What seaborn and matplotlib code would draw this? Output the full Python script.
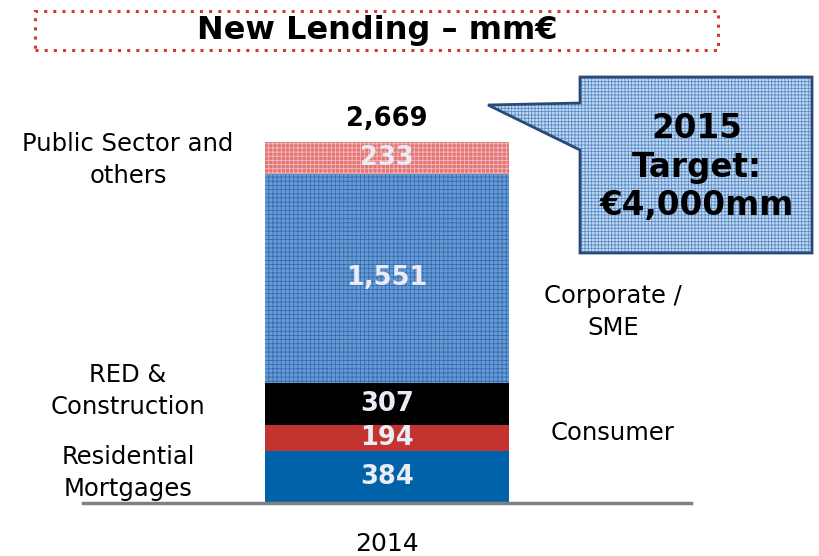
import matplotlib
matplotlib.use("Agg")
import matplotlib.pyplot as plt
import pandas as pd
import seaborn as sns
from matplotlib.patches import Polygon, Rectangle

# Data (mm€, 2014), bottom to top
segments = ['Residential Mortgages', 'Consumer', 'RED & Construction',
            'Corporate / SME', 'Public Sector and others']
values = [384, 194, 307, 1551, 233]
year = ['2014']
total = 2669

seg_colors = ['#0062a8', '#c3332f', '#000000', '#6b9ad2', '#e47476']
hatch_colors = ['#0062a8', '#c3332f', '#000000', '#2f6fb5', '#f3bcbc']
hatches = ['', '', '', '++++', '++++']

sns.set_style('white')
plt.rcParams['font.family'] = ['DejaVu Sans']
plt.rcParams['text.color'] = 'black'
plt.rcParams['xtick.color'] = 'black'
plt.rcParams['hatch.linewidth'] = 0.6

fig = plt.figure(figsize=(8.2, 5.56), dpi=100)
ax = fig.add_axes([83 / 820, 1 - 503 / 556, 608 / 820, 443 / 556])

# stacked bar: draw cumulative totals from the top down
cum = pd.Series(values).cumsum()
for i in reversed(range(len(values))):
    df = pd.DataFrame({'year': year, 'value': [cum[i]]})
    sns.barplot(data=df, x='year', y='value', ax=ax, color=seg_colors[i],
                width=0.8, saturation=1, hatch=hatches[i],
                edgecolor=hatch_colors[i], linewidth=0)

ax.set_xlim(-1.0, 1.0)
ax.set_ylim(0, 443 / (361 / total))
sns.despine(ax=ax, left=True, top=True, right=True)
ax.spines['bottom'].set_color('#808080')
ax.spines['bottom'].set_linewidth(2.5)
ax.set_yticks([])
ax.set_xlabel('')
ax.set_ylabel('')
ax.tick_params(axis='x', length=0, pad=21, labelsize=18, labelcolor='black')

# value labels
bottoms = [0] + list(cum[:-1])
for v, b in zip(values, bottoms):
    ax.text(0, b + v / 2, f'{v:,}', ha='center', va='center',
            fontsize=18.5, fontweight='bold', color='#e9ecf5')
ax.text(0, total + 75, f'{total:,}', ha='center', va='bottom',
        fontsize=18.5, fontweight='bold', color='black')

# segment names
lbl = dict(fontsize=17.5, color='black', ha='center', va='center',
           transform=fig.transFigure, linespacing=1.4)
fig.text(128 / 820, 1 - 160 / 556, 'Public Sector and\nothers', **lbl)
fig.text(128 / 820, 1 - 391 / 556, 'RED &\nConstruction', **lbl)
fig.text(128 / 820, 1 - 473 / 556, 'Residential\nMortgages', **lbl)
fig.text(613 / 820, 1 - 312 / 556, 'Corporate /\nSME', **lbl)
fig.text(613 / 820, 1 - 433 / 556, 'Consumer', **lbl)

# title in dotted red box
fig.patches.append(Rectangle((35 / 820, 1 - 50 / 556), 683 / 820, 39 / 556,
                             transform=fig.transFigure, fill=False,
                             edgecolor='#d03a35', linestyle=(0, (1, 2)),
                             linewidth=2.2))
fig.text(377 / 820, 1 - 31 / 556, 'New Lending \u2013 mm\u20ac', ha='center',
         va='center', fontsize=23, fontweight='bold', color='black')

# callout
pts = [(580, 77), (812, 77), (812, 253), (580, 253), (580, 150),
       (488, 105), (580, 103)]
pts = [(x / 820, 1 - y / 556) for x, y in pts]
fig.patches.append(Polygon(pts, closed=True, transform=fig.transFigure,
                           facecolor='#c4daf1', edgecolor='#5a8cc8',
                           linewidth=0, hatch='+++++', zorder=1))
fig.patches.append(Polygon(pts, closed=True, transform=fig.transFigure,
                           fill=False, edgecolor='#2a4a75', linewidth=2,
                           zorder=2))
fig.text(697 / 820, 1 - 167 / 556, '2015\nTarget:\n\u20ac4,000mm',
         ha='center', va='center', fontsize=23.5, fontweight='bold',
         color='black', linespacing=1.2)

fig.savefig('out.png', dpi=100)
